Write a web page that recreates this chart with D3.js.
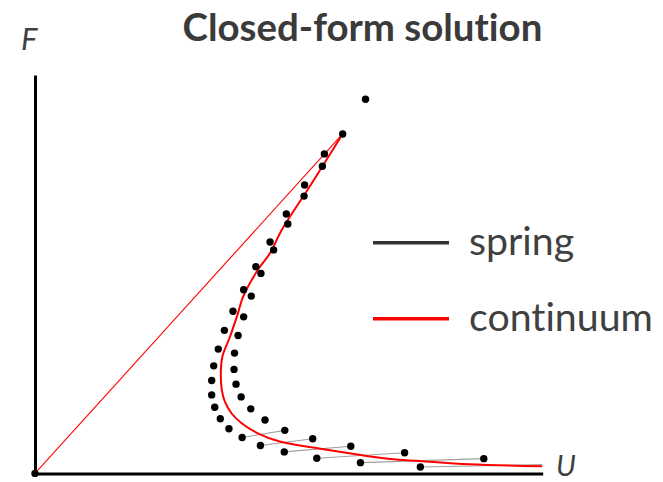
<!DOCTYPE html>
<html>
<head>
<meta charset="utf-8">
<script src="https://cdn.jsdelivr.net/npm/d3@7"></script>
<style>
  html, body { margin: 0; padding: 0; background: #fff; }
  svg { display: block; }
  text { font-variant-ligatures: none; font-feature-settings: "liga" 0, "clig" 0; }
</style>
</head>
<body>
<svg id="chart" width="663" height="482"></svg>
<script>
// Discrete spring model: node positions (U, F)
const springU = [0, 6.51, 6.06, 5.70, 5.66, 5.31, 5.30, 4.95, 4.98, 4.63, 4.70,
  4.35, 4.45, 4.11, 4.26, 3.90, 4.11, 3.73, 4.00, 3.61, 3.93,
  3.52, 3.92, 3.48, 3.96, 3.48, 4.06, 3.54, 4.25, 3.65, 4.53,
  3.82, 4.92, 4.08, 5.47, 4.44, 6.22, 4.91, 7.28, 5.55, 8.84,
  6.41, 7.59];
const springF = [0, 9.39, 8.52, 8.02, 7.71, 7.24, 6.96, 6.51, 6.26, 5.81, 5.61,
  5.19, 5.02, 4.61, 4.45, 4.07, 3.93, 3.59, 3.46, 3.12, 3.02,
  2.70, 2.61, 2.33, 2.24, 1.97, 1.92, 1.66, 1.62, 1.37, 1.34,
  1.12, 1.08, 0.90, 0.87, 0.70, 0.68, 0.54, 0.52, 0.38, 0.37,
  0.27, 0.16];

// Spring elements drawn as thin links: [U0, F0, U1, F1]
const springLinks = [
  [4.08, 0.90, 4.92, 1.08],
  [4.44, 0.70, 5.47, 0.87],
  [4.91, 0.54, 6.22, 0.68],
  [5.55, 0.38, 7.28, 0.52],
  [6.41, 0.27, 8.84, 0.37],
  [7.59, 0.16, 9.99, 0.22]
];

// Continuum model: linear loading branch, then post-peak branch
const loadingU = [0, 6.06];
const loadingF = [0, 8.52];
const continuumU = [6.06, 5.43, 4.86, 4.63, 4.39, 4.10, 4.00, 3.84, 3.69, 3.66,
  3.68, 3.74, 3.87, 4.07, 4.40, 4.82, 5.48, 6.16, 6.99, 7.58, 8.56, 9.99];
const continuumF = [8.52, 7.24, 6.11, 5.53, 5.11, 4.44, 4.03, 3.43, 2.93, 2.51,
  2.09, 1.80, 1.51, 1.26, 1.00, 0.80, 0.65, 0.51, 0.36, 0.31, 0.23, 0.18];

const legendLabels = ["spring", "continuum"];
const legendColors = ["#333333", "#ff0000"];
const titleText = "Closed-form solution";

const svg = d3.select("#chart");
const textColor = "#404040";

const x = d3.scaleLinear().domain([0, 10]).range([35, 542.7]);
const y = d3.scaleLinear().domain([0, 10]).range([473.4, 75]);

// Axes: plain lines without ticks
const xAxis = d3.axisBottom(x).tickValues([]).tickSizeOuter(0);
const yAxis = d3.axisLeft(y).tickValues([]).tickSizeOuter(0);
svg.append("g").attr("transform", `translate(0,${y(0)})`).call(xAxis)
  .select(".domain").attr("stroke", "#000").attr("stroke-width", 3);
svg.append("g").attr("transform", `translate(${x(0)},0)`).call(yAxis)
  .select(".domain").attr("stroke", "#000").attr("stroke-width", 3);

// Spring links
svg.append("g").selectAll("line").data(springLinks).join("line")
  .attr("x1", d => x(d[0])).attr("y1", d => y(d[1]))
  .attr("x2", d => x(d[2])).attr("y2", d => y(d[3]))
  .attr("stroke", "#a0a0a0").attr("stroke-width", 1.1);

// Continuum curves
const line = d3.line().x(d => x(d[0])).y(d => y(d[1]));
svg.append("path")
  .datum(loadingU.map((u, i) => [u, loadingF[i]]))
  .attr("d", line).attr("fill", "none")
  .attr("stroke", "#ff0000").attr("stroke-width", 1.1);
svg.append("path")
  .datum(continuumU.map((u, i) => [u, continuumF[i]]))
  .attr("d", line.curve(d3.curveCatmullRom.alpha(0.5)))
  .attr("fill", "none").attr("stroke", "#ff0000").attr("stroke-width", 2);

// Spring nodes
svg.append("g").selectAll("circle")
  .data(springU.map((u, i) => [u, springF[i]])).join("circle")
  .attr("cx", d => x(d[0])).attr("cy", d => y(d[1]))
  .attr("r", 3.7).attr("fill", "#000");

// Fit a text element to a given width by adjusting its font size
function fitWidth(sel, width) {
  const base = parseFloat(sel.attr("font-size"));
  const len = sel.node().getComputedTextLength();
  sel.attr("font-size", base * width / len);
}

// Title
const title = svg.append("text")
  .attr("x", 182.5).attr("y", 41)
  .attr("font-family", "Lato, 'Open Sans', sans-serif")
  .attr("font-weight", "bold").attr("font-size", 40)
  .attr("fill", "#3a3a3a").text(titleText);
fitWidth(title, 360);

// Axis labels
svg.append("text").attr("x", 21).attr("y", 50)
  .attr("font-family", "Lato, 'Open Sans', sans-serif")
  .attr("font-style", "italic").attr("font-size", 31)
  .attr("fill", textColor).text("F");
svg.append("text").attr("x", 556).attr("y", 476)
  .attr("font-family", "Lato, 'Open Sans', sans-serif")
  .attr("font-style", "italic").attr("font-size", 29)
  .attr("fill", textColor).text("U");

// Legend
const legendY = [242.7, 318.7];
const lg = svg.append("g");
lg.selectAll("line").data(legendLabels).join("line")
  .attr("x1", 373).attr("x2", 449)
  .attr("y1", (d, i) => legendY[i]).attr("y2", (d, i) => legendY[i])
  .attr("stroke", (d, i) => legendColors[i]).attr("stroke-width", 3.5);
const lt = lg.selectAll("text").data(legendLabels).join("text")
  .attr("x", 469).attr("y", (d, i) => legendY[i] + 12.5)
  .attr("font-family", "Lato, 'Open Sans', sans-serif")
  .attr("font-size", 40).attr("fill", textColor).text(d => d);
const longest = lt.filter((d, i) => i === 1);
const base = 40;
const ratio = 184 / longest.node().getComputedTextLength();
lt.attr("font-size", base * ratio);
</script>
</body>
</html>
